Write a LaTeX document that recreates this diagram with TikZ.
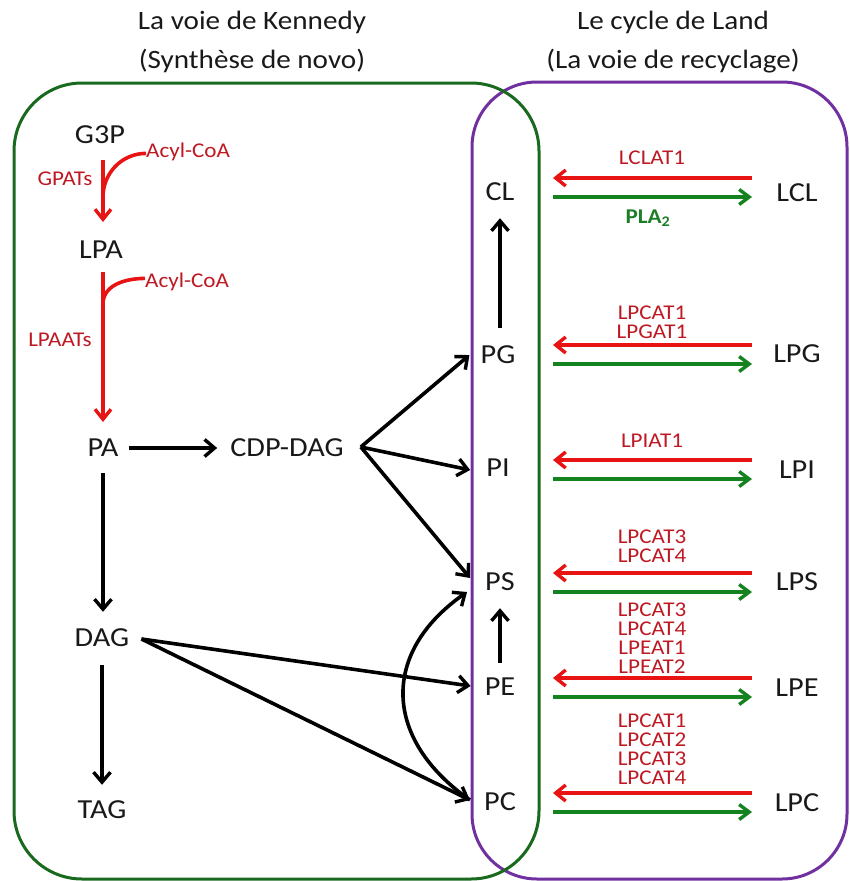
\documentclass[tikz,border=0pt]{standalone}
\usepackage{fontspec}
\setmainfont{Carlito}[FakeStretch=1.1]
\usetikzlibrary{arrows.meta,calc}
\definecolor{kgreen}{RGB}{25,105,30}
\definecolor{kpurple}{RGB}{112,48,160}
\definecolor{ared}{RGB}{232,20,20}
\definecolor{tred}{RGB}{190,25,35}
\definecolor{agreen}{RGB}{20,130,30}
\definecolor{tgreen}{RGB}{30,125,40}
\definecolor{tblack}{RGB}{25,25,25}
\tikzset{
  lbl/.style={font=\fontsize{27.5}{31}\selectfont, inner sep=0pt, text=tblack},
  ttl/.style={font=\fontsize{26.5}{39}\selectfont, inner sep=0pt, align=center, text=tblack},
  enz/.style={font=\fontsize{21}{19}\selectfont, inner sep=0pt, align=center, text=tred},
  blk/.style={line width=3.6pt, draw=black, -{Straight Barb[length=10pt,width=17pt,line width=3.4pt]}},
  redarr/.style={line width=3.6pt, draw=ared, -{Straight Barb[length=10pt,width=16pt,line width=3.4pt]}},
  redline/.style={line width=3.6pt, draw=ared},
  grnarr/.style={line width=3.6pt, draw=agreen, -{Straight Barb[length=10pt,width=15pt,line width=3.4pt]}},
  gbox/.style={draw=kgreen, line width=3pt, rounded corners=68pt},
  pbox/.style={draw=kpurple, line width=3pt, rounded corners=65pt},
}
\begin{document}
\begin{tikzpicture}[x=1pt,y=-1pt]
\useasboundingbox (0,0) rectangle (850,881);
% boxes
\draw[pbox] (472,82) rectangle (847,879);
\draw[gbox] (14,83) rectangle (539,879);
% titles
\node[ttl] (t1) at (252,42) {La voie de Kennedy\\(Synthèse de novo)};
\node[ttl] (t2) at (673,42) {Le cycle de Land\\(La voie de recyclage)};
% left nodes
\node[lbl] (G3P) at (100,135) {G3P};
\node[lbl] (LPA) at (101,250) {LPA};
\node[lbl] (PA) at (103,448) {PA};
\node[lbl] (CDP) at (287,448) {CDP-DAG};
\node[lbl] (DAG) at (102,638) {DAG};
\node[lbl] (TAG) at (102,810) {TAG};
% middle nodes
\node[lbl] (CL) at (500,192) {CL};
\node[lbl] (PG) at (498,355) {PG};
\node[lbl] (PI) at (498,468) {PI};
\node[lbl] (PS) at (500,582) {PS};
\node[lbl] (PE) at (500,687) {PE};
\node[lbl] (PC) at (500,802) {PC};
% right nodes
\node[lbl] (LCL) at (797,193) {LCL};
\node[lbl] (LPG) at (797,354) {LPG};
\node[lbl] (LPI) at (797,470) {LPI};
\node[lbl] (LPS) at (797,582) {LPS};
\node[lbl] (LPE) at (797,688) {LPE};
\node[lbl] (LPC) at (797,803) {LPC};
% enzyme labels left
\node[enz, anchor=base west] (acyl1) at (146,157) {Acyl-CoA};
\node[enz, anchor=base west] (acyl2) at (145,287) {Acyl-CoA};
\node[enz] (gpat) at (65,179) {GPATs};
\node[enz] (lpaat) at (60,340) {LPAATs};
% Kennedy arrows
\draw[redarr] ($(G3P.south)+(3,16)$) -- ($(LPA.north)+(2,-19)$);
\coordinate (j1) at (103,197);
\draw[redline] ($(acyl1.west)+(0,2)$) to[out=180,in=90] (j1);
\draw[redarr] ($(LPA.south)+(2,13)$) -- ($(PA.north)+(0,-17)$);
\coordinate (j2) at (103,304);
\draw[redline] ($(acyl2.west)+(0,-3)$) to[out=180,in=90] (j2);
\draw[blk] ($(PA.east)+(10,0)$) -- ($(CDP.west)+(-13,0)$);
\draw[blk] ($(PA.south)+(0,16)$) -- ($(DAG.north)+(1,-17)$);
\draw[blk] ($(DAG.south)+(0,18)$) -- ($(TAG.north)+(0,-16)$);
\draw[blk] ($(CDP.east)+(17,-1)$) -- ($(PG.west)+(-11,0)$);
\draw[blk] ($(CDP.east)+(17,-1)$) -- ($(PI.west)+(-16,2)$);
\draw[blk] ($(CDP.east)+(17,-1)$) -- ($(PS.west)+(-15,-4)$);
\draw[blk] ($(DAG.east)+(12,1)$) -- ($(PE.west)+(-14,-1)$);
\draw[blk] ($(DAG.east)+(12,1)$) -- ($(PC.west)+(-14,-2)$);
\draw[blk] ($(PC.west)+(-14,-2)$) to[out=145,in=215,looseness=1.3] ($(PS.west)+(-18,10)$);
\draw[blk] ($(PE.north)+(0,-15)$) -- ($(PS.south)+(0,17)$);
\draw[blk] ($(PG.north)+(2,-18)$) -- ($(CL.south)+(0,17)$);
% Land cycle arrows
\draw[redarr] ($(LCL)+(-45,-15)$) -- ($(LCL)+(-244,-15)$);
\draw[grnarr] ($(LCL)+(-244,4)$) -- ($(LCL)+(-45,4)$);
\draw[redarr] ($(LPG)+(-45,-9)$) -- ($(LPG)+(-244,-9)$);
\draw[grnarr] ($(LPG)+(-244,10)$) -- ($(LPG)+(-45,10)$);
\draw[redarr] ($(LPI)+(-45,-10)$) -- ($(LPI)+(-244,-10)$);
\draw[grnarr] ($(LPI)+(-244,9)$) -- ($(LPI)+(-45,9)$);
\draw[redarr] ($(LPS)+(-45,-9)$) -- ($(LPS)+(-244,-9)$);
\draw[grnarr] ($(LPS)+(-244,10)$) -- ($(LPS)+(-45,10)$);
\draw[redarr] ($(LPE)+(-45,-10)$) -- ($(LPE)+(-244,-10)$);
\draw[grnarr] ($(LPE)+(-244,9)$) -- ($(LPE)+(-45,9)$);
\draw[redarr] ($(LPC)+(-45,-10)$) -- ($(LPC)+(-244,-10)$);
\draw[grnarr] ($(LPC)+(-244,9)$) -- ($(LPC)+(-45,9)$);
% enzyme labels right
\node[enz] (lclat) at (652,158) {LCLAT1};
\node[enz, text=tgreen, font=\fontsize{21}{19}\selectfont\bfseries] (pla) at (648,218) {PLA\textsubscript{2}};
\node[enz] (lpgat) at (652,322.5) {LPCAT1\\LPGAT1};
\node[enz] (lpiat) at (652,441) {LPIAT1};
\node[enz] (lpsat) at (652,546) {LPCAT3\\LPCAT4};
\node[enz] (lpeat) at (652,638.5) {LPCAT3\\LPCAT4\\LPEAT1\\LPEAT2};
\node[enz] (lpcat) at (652,749) {LPCAT1\\LPCAT2\\LPCAT3\\LPCAT4};
\end{tikzpicture}
\end{document}
